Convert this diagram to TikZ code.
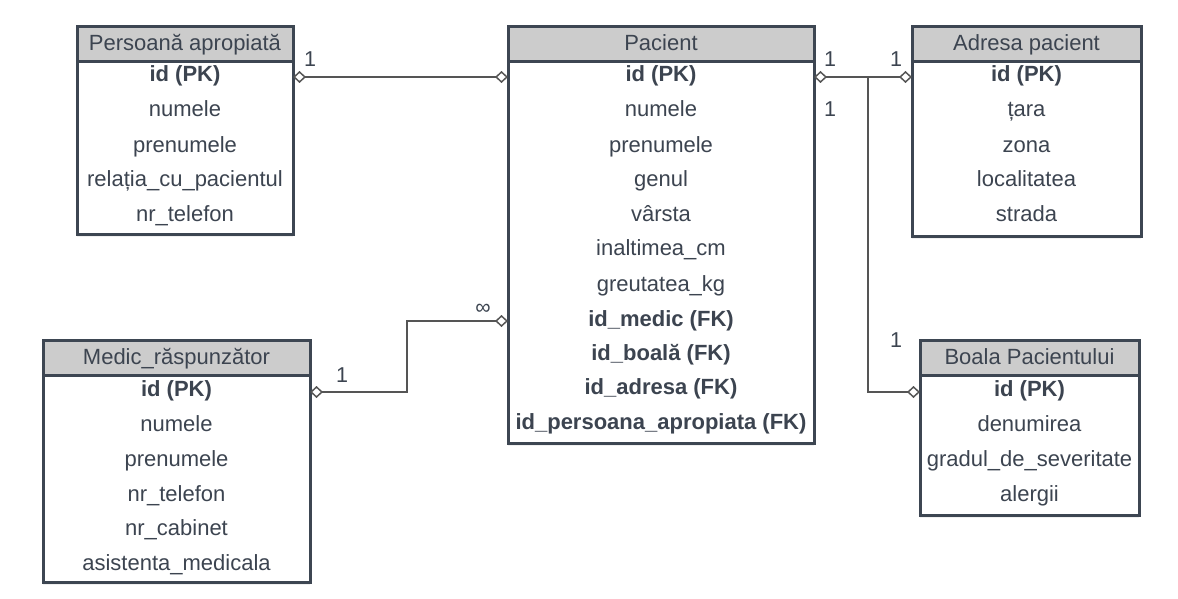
\documentclass[tikz,border=0pt]{standalone}
\usepackage{fontspec}
\setmainfont{Liberation Sans}
\usetikzlibrary{arrows.meta,shadows}
\definecolor{bord}{HTML}{3D4652}
\definecolor{hdrfill}{HTML}{CCCCCC}
\definecolor{txt}{HTML}{3C4450}
\definecolor{conncol}{HTML}{555555}
\tikzset{
  tbox/.style={draw=bord, line width=3pt, inner sep=0pt, outer sep=0pt, anchor=north west,
    drop shadow={opacity=0.12, shadow xshift=0pt, shadow yshift=-3pt}},
  hdr/.style={tbox, fill=hdrfill},
  bdy/.style={tbox, fill=white},
  txtn/.style={text=txt, inner sep=0pt, text height=17pt, text depth=2pt,
    font=\fontsize{22}{26}\selectfont, anchor=center},
  hdrtxt/.style={txtn},
  row/.style={txtn},
  key/.style={txtn, font=\fontsize{22}{26}\selectfont\bfseries},
  card/.style={txtn, font=\fontsize{21.5}{25}\selectfont},
  conn/.style={draw=conncol, line width=1.8pt,
    {Diamond[open,length=13pt,width=12pt,line width=1.5pt]}-{Diamond[open,length=13pt,width=12pt,line width=1.5pt]}},
  connend/.style={draw=conncol, line width=1.8pt,
    -{Diamond[open,length=13pt,width=12pt,line width=1.5pt]}},
}
\begin{document}
\begin{tikzpicture}[x=1pt,y=-1pt]
\useasboundingbox (0,0) rectangle (1178,599);

% ---------- Persoana apropiata ----------
\node[hdr, minimum width=216pt, minimum height=35.5pt] (pa-h) at (77,26.5) {};
\node[bdy, minimum width=216pt, minimum height=172pt] (pa-body) at (77,62) {};
\node[hdrtxt] (pa-t) at (185,43) {Persoană apropiată};
\node[key] (pa-r1) at (185,74) {id (PK)};
\node[row] (pa-r2) at (185,109) {numele};
\node[row] (pa-r3) at (185,145) {prenumele};
\node[row] (pa-r4) at (185,179) {relația\_cu\_pacientul};
\node[row] (pa-r5) at (185,214) {nr\_telefon};

% ---------- Pacient ----------
\node[hdr, minimum width=306pt, minimum height=35.5pt] (pac-h) at (508,26.5) {};
\node[bdy, minimum width=306pt, minimum height=381pt] (pac-body) at (508,62) {};
\node[hdrtxt] (pac-t) at (661,43) {Pacient};
\node[key] (pac-r1) at (661,74) {id (PK)};
\node[row] (pac-r2) at (661,109) {numele};
\node[row] (pac-r3) at (661,145) {prenumele};
\node[row] (pac-r4) at (661,179) {genul};
\node[row] (pac-r5) at (661,214) {vârsta};
\node[row] (pac-r6) at (661,248) {inaltimea\_cm};
\node[row] (pac-r7) at (661,284) {greutatea\_kg};
\node[key] (pac-r8) at (661,319) {id\_medic (FK)};
\node[key] (pac-r9) at (661,353) {id\_boală (FK)};
\node[key] (pac-r10) at (661,387) {id\_adresa (FK)};
\node[key] (pac-r11) at (661,422) {id\_persoana\_apropiata (FK)};

% ---------- Adresa pacient ----------
\node[hdr, minimum width=229pt, minimum height=35.5pt] (ad-h) at (912,26.5) {};
\node[bdy, minimum width=229pt, minimum height=174pt] (ad-body) at (912,62) {};
\node[hdrtxt] (ad-t) at (1026.5,43) {Adresa pacient};
\node[key] (ad-r1) at (1026.5,74) {id (PK)};
\node[row] (ad-r2) at (1026.5,109) {țara};
\node[row] (ad-r3) at (1026.5,145) {zona};
\node[row] (ad-r4) at (1026.5,179) {localitatea};
\node[row] (ad-r5) at (1026.5,214) {strada};

% ---------- Medic raspunzator ----------
\node[hdr, minimum width=267pt, minimum height=35pt] (me-h) at (43,340) {};
\node[bdy, minimum width=267pt, minimum height=207pt] (me-body) at (43,375) {};
\node[hdrtxt] (me-t) at (176.5,357) {Medic\_răspunzător};
\node[key] (me-r1) at (176.5,389) {id (PK)};
\node[row] (me-r2) at (176.5,424) {numele};
\node[row] (me-r3) at (176.5,459) {prenumele};
\node[row] (me-r4) at (176.5,494) {nr\_telefon};
\node[row] (me-r5) at (176.5,528) {nr\_cabinet};
\node[row] (me-r6) at (176.5,563) {asistenta\_medicala};

% ---------- Boala Pacientului ----------
\node[hdr, minimum width=219pt, minimum height=35pt] (bo-h) at (920,340) {};
\node[bdy, minimum width=219pt, minimum height=140pt] (bo-body) at (920,375) {};
\node[hdrtxt] (bo-t) at (1029.5,357) {Boala Pacientului};
\node[key] (bo-r1) at (1029.5,389) {id (PK)};
\node[row] (bo-r2) at (1029.5,424) {denumirea};
\node[row] (bo-r3) at (1029.5,459) {gradul\_de\_severitate};
\node[row] (bo-r4) at (1029.5,494) {alergii};

% ---------- connectors ----------
\draw[conn] ([yshift=-15pt]pa-body.north east) -- ([yshift=-15pt]pac-body.north west);
\draw[conn] ([yshift=-15pt]pac-body.north east) -- ([yshift=-15pt]ad-body.north west);
\coordinate (jn) at (868,77);
\draw[connend] (jn) |- ([yshift=-17pt]bo-body.north west);
\coordinate (mbend) at (407,356);
\draw[conn] ([yshift=-17pt]me-body.north east) -| (mbend) |- ([yshift=-259pt]pac-body.north west);

% ---------- cardinalities ----------
\node[card] (c1) at (310,59) {1};
\node[card] (c2) at (830,59) {1};
\node[card] (c3) at (896,59) {1};
\node[card] (c4) at (830,109) {1};
\node[card] (c5) at (896,340) {1};
\node[card] (c6) at (342,375) {1};
\node[card] (c7) at (483,307) {∞};
\end{tikzpicture}
\end{document}
